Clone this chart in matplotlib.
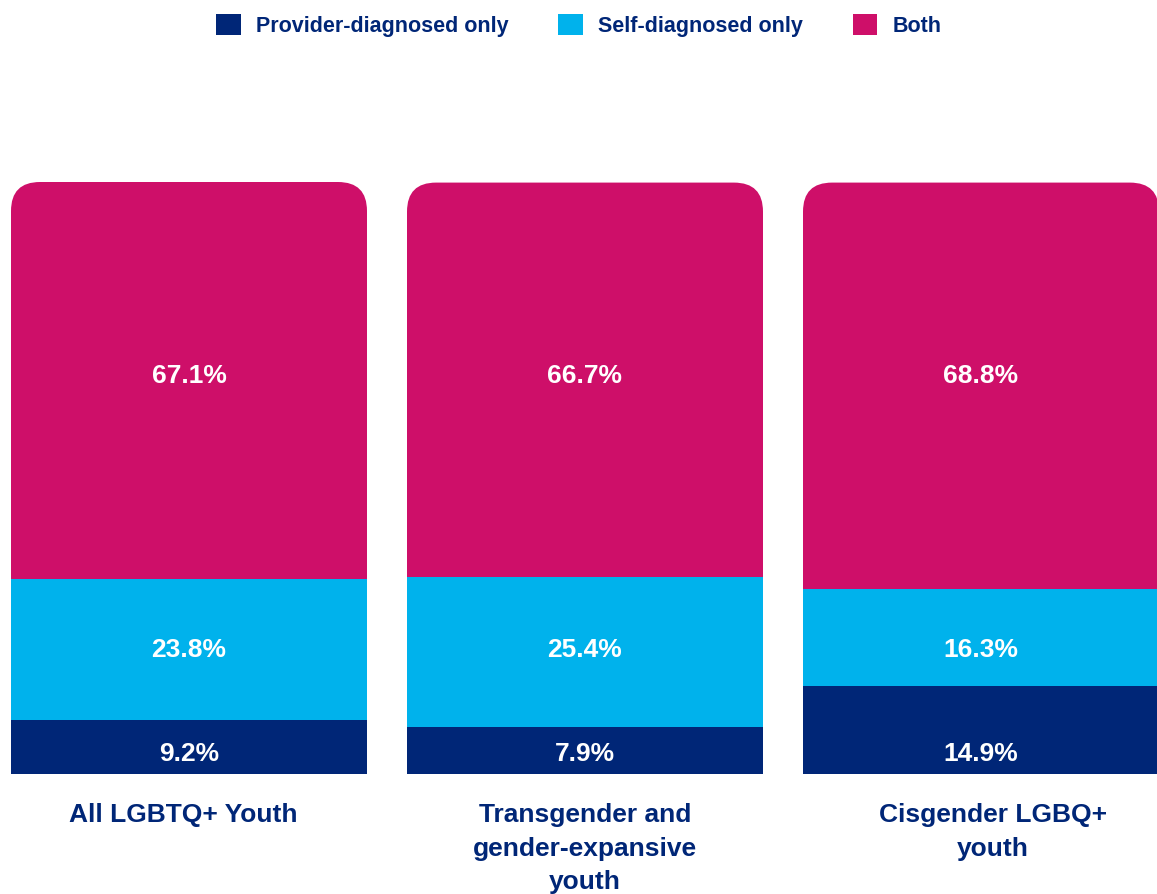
import numpy as np
import matplotlib.pyplot as plt
from matplotlib.patches import FancyBboxPatch, Patch
from matplotlib.transforms import ScaledTranslation

plt.rcParams['font.family'] = ['Liberation Sans', 'DejaVu Sans']

# data
groups = ['All LGBTQ+ Youth', 'Transgender and\ngender-expansive\nyouth', 'Cisgender LGBQ+\nyouth']
series = ['Provider-diagnosed only', 'Self-diagnosed only', 'Both']
provider = [9.2, 7.9, 14.9]
self_diag = [23.8, 25.4, 16.3]
both = [67.1, 66.7, 68.8]

colors = ['#002677', '#00B2EC', '#CE0F69']
text_navy = '#002677'

W, H = 1157, 895
x = np.arange(len(groups))
bw = 356 / 396
ax_w = (len(groups) - 1 + bw) * 396

fig = plt.figure(figsize=(W / 100, H / 100), dpi=100)
ax = fig.add_axes([11 / W, (H - 775) / H, ax_w / W, 592 / H])

ymax = 100.1
ax.set_xlim(-bw / 2, len(groups) - 1 + bw / 2)
ax.set_ylim(0, ymax)

# pixel scales for rounded corners
px_x = 396
px_y = 592 / ymax
r_px = 29
rx = r_px / px_x
ry = r_px / px_y

totals = np.array(provider) + np.array(self_diag) + np.array(both)
for i in x:
    box = FancyBboxPatch((i - bw / 2, 0), bw, totals[i],
                         boxstyle=f'round,pad=0,rounding_size={rx}',
                         mutation_aspect=ry / rx,
                         facecolor=colors[2], edgecolor='none')
    ax.add_patch(box)

ax.bar(x, provider, width=bw, color=colors[0], zorder=2)
ax.bar(x, self_diag, width=bw, bottom=provider, color=colors[1], zorder=2)

# value labels sit on one row per series (row height from the first group)
row_y = [provider[0] / 2 - 1.0,
         provider[0] + self_diag[0] / 2,
         provider[0] + self_diag[0] + both[0] / 2 + 1.0]
for vals, yy in zip([provider, self_diag, both], row_y):
    for i, v in enumerate(vals):
        ax.text(i, yy, f'{v}%', ha='center', va='center',
                color='white', fontsize=19, fontweight='bold', zorder=3)

ax.set_xticks(x)
ax.set_xticklabels(groups, fontsize=19, fontweight='bold', color=text_navy,
                   linespacing=1.48, va='top')
ax.tick_params(axis='x', length=0, pad=20.5)
# small nudges so the labels sit where the original puts them
for lbl, dx in zip(ax.get_xticklabels(), [-6, 0, 12]):
    lbl.set_transform(lbl.get_transform() + ScaledTranslation(dx / 100, 0, fig.dpi_scale_trans))
ax.set_yticks([])
for s in ax.spines.values():
    s.set_visible(False)

handles = [Patch(facecolor=c, edgecolor='none') for c in colors]
leg = fig.legend(handles, series, loc='center', bbox_to_anchor=(579 / W, 1 - 26 / H),
                 ncol=3, frameon=False, handlelength=1.15, handleheight=1.15,
                 handletextpad=0.7, columnspacing=2.3,
                 prop={'weight': 'bold', 'size': 15.5})
for t in leg.get_texts():
    t.set_color(text_navy)

fig.savefig('out.png', dpi=100)
